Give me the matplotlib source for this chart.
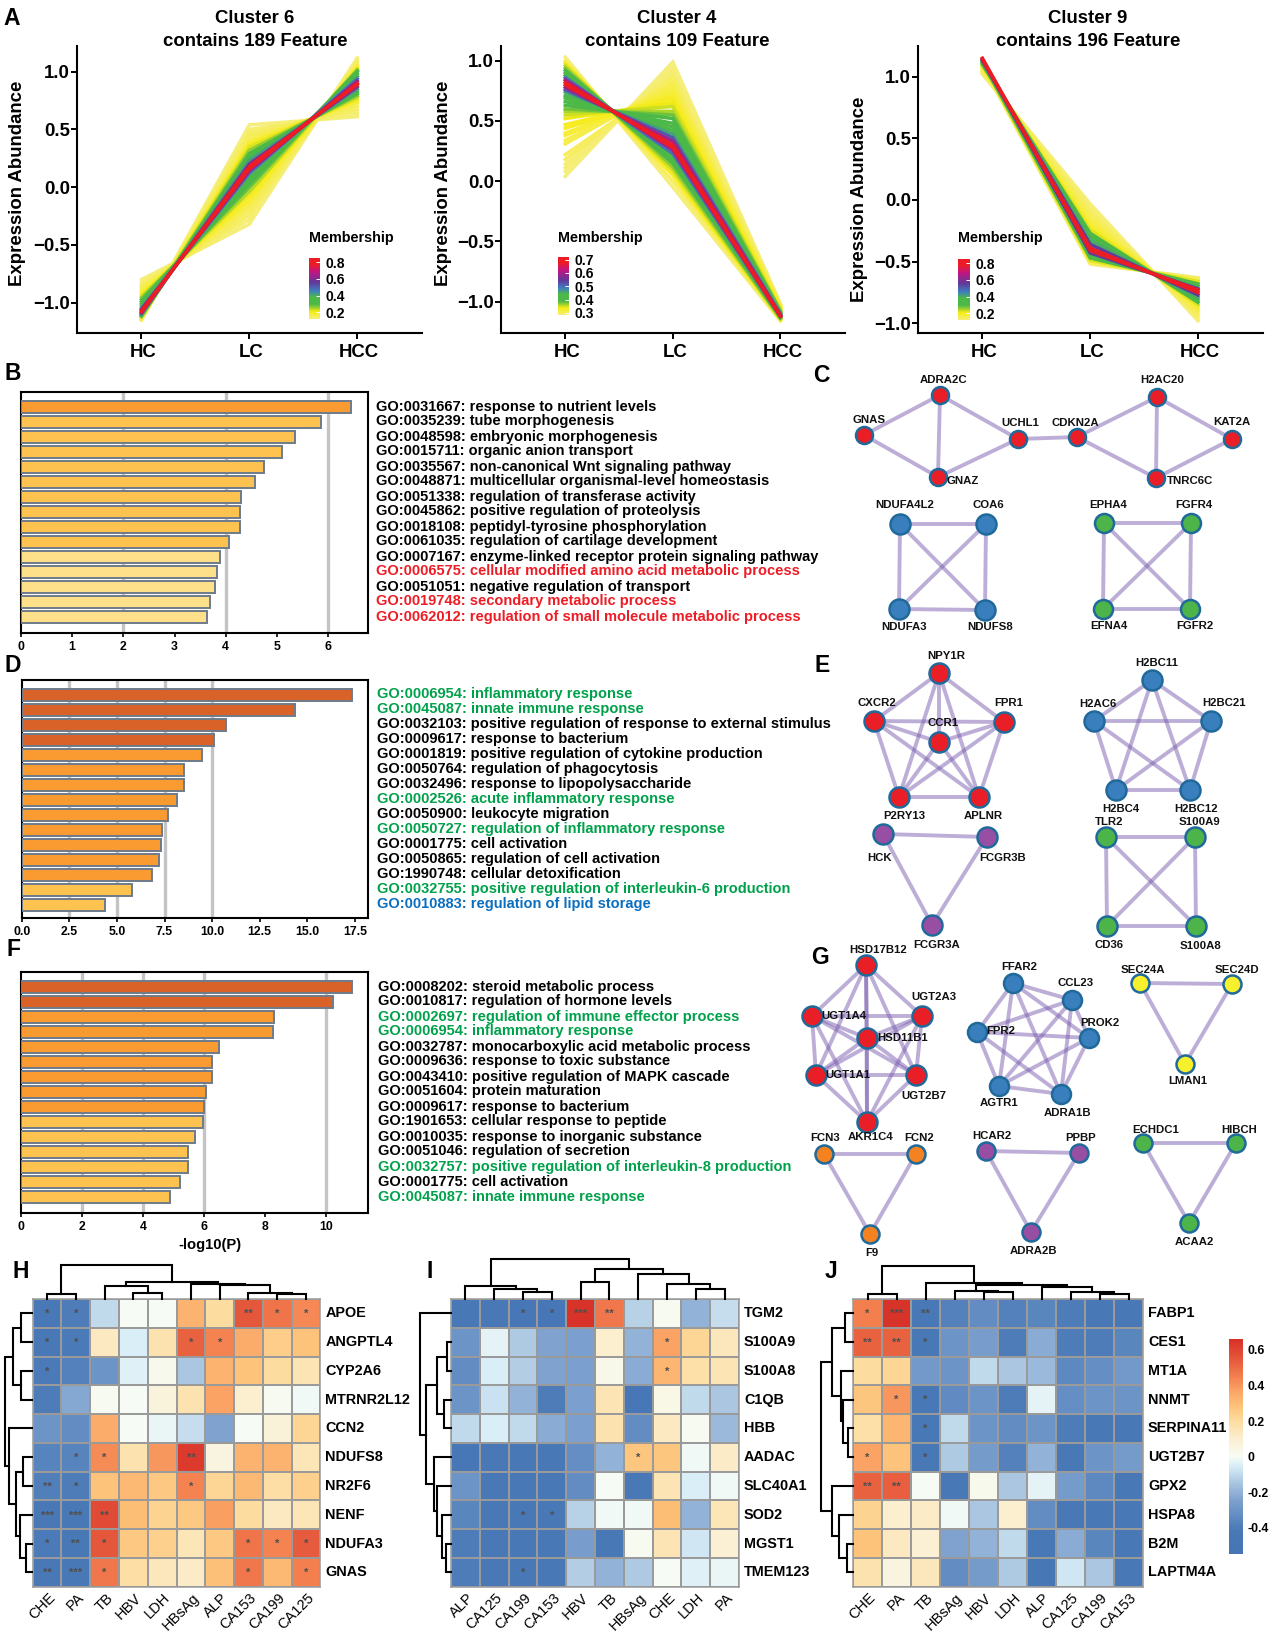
import itertools
import matplotlib
matplotlib.use("Agg")
import matplotlib.pyplot as plt
import numpy as np
from matplotlib.cm import ScalarMappable
from matplotlib.colors import LinearSegmentedColormap, Normalize
from matplotlib.transforms import ScaledTranslation

W, H = 1271, 1637
plt.rcParams['font.family'] = ['Liberation Sans', 'DejaVu Sans']
plt.rcParams['font.weight'] = 'bold'

# ---- Panel A: membership lines, one entry per feature ----
c6_hc = [-.80, -.83, -.85, -.87, -.89, -.91, -.93, -.95, -.97, -.99, -1.01, -1.03, -1.05, -1.06, -1.07, -1.08,
         -1.09, -1.10, -1.11, -1.11, -1.12, -1.12, -1.13, -1.13, -1.14, -1.14, -1.15, -1.15]
c6_lc = [-.32, -.28, -.24, -.20, -.16, -.12, -.08, -.04, 0, .03, .06, .09, .12, .14, .16, .18,
         .20, .23, .26, .29, .32, .35, .38, .41, .44, .47, .50, .54]
c6_hcc = [1.12, 1.10, 1.08, 1.06, 1.05, 1.04, 1.03, 1.02, 1.01, 1.0, .98, .96, .94, .92, .90, .89,
          .87, .85, .83, .81, .79, .77, .75, .73, .70, .67, .64, .61]
c6_mem = [.12, .13, .14, .15, .16, .18, .20, .24, .28, .31, .34, .38, .46, .62, .85, .85,
          .60, .42, .34, .30, .26, .22, .19, .16, .15, .14, .13, .12]

c4_hc = [.04, .08, .11, .14, .18, .22, .31, .34, .38, .40, .44, .47, .52, .55, .58, .60, .63, .66, .69, .71, .74,
         .76, .78, .80, .82, .84, .86, .88, .90, .92, .94, .96, .98, 1.0, 1.03]
c4_lc = [.99, .96, .93, .90, .87, .84, .81, .78, .75, .72, .70, .68, .65, .62, .58, .55, .52, .48, .45, .42, .39,
         .36, .33, .30, .28, .26, .23, .21, .18, .15, .12, .09, .05, 0, -.05]
c4_hcc = [-1.02, -1.02, -1.03, -1.03, -1.03, -1.04, -1.04, -1.05, -1.05, -1.05, -1.06, -1.06, -1.07, -1.07, -1.08,
          -1.08, -1.09, -1.09, -1.10, -1.10, -1.10, -1.11, -1.11, -1.12, -1.12, -1.12, -1.12, -1.13, -1.13, -1.13,
          -1.14, -1.14, -1.15, -1.15, -1.16]
c4_mem = [.28, .28, .29, .29, .30, .30, .31, .31, .32, .32, .33, .33, .34, .35, .36, .38, .39, .40, .41, .42, .46,
          .52, .60, .70, .72, .60, .50, .44, .41, .39, .37, .35, .33, .30, .28]

c9_hc = [1.02, 1.03, 1.04, 1.05, 1.06, 1.07, 1.08, 1.09, 1.10, 1.11, 1.12, 1.13, 1.14, 1.15, 1.14, 1.13, 1.12, 1.11,
         1.10, 1.09]
c9_lc = [-.03, -.06, -.09, -.12, -.15, -.18, -.21, -.24, -.27, -.30, -.33, -.36, -.39, -.41, -.43, -.45, -.47, -.49,
         -.51, -.52]
c9_hcc = [-.98, -.96, -.94, -.92, -.90, -.88, -.86, -.85, -.83, -.81, -.79, -.77, -.75, -.73, -.72, -.70, -.68, -.66,
          -.64, -.63]
c9_mem = [.12, .13, .14, .15, .16, .17, .19, .22, .30, .34, .40, .55, .85, .85, .55, .38, .30, .22, .15, .12]

stages = ["HC", "LC", "HCC"]

# ---- Panels B, D, F: enrichment bars ----
b_vals = [6.44, 5.86, 5.36, 5.09, 4.74, 4.57, 4.30, 4.28, 4.27, 4.06, 3.88, 3.82, 3.80, 3.69, 3.64]
b_terms = ["GO:0031667: response to nutrient levels", "GO:0035239: tube morphogenesis",
           "GO:0048598: embryonic morphogenesis", "GO:0015711: organic anion transport",
           "GO:0035567: non-canonical Wnt signaling pathway", "GO:0048871: multicellular organismal-level homeostasis",
           "GO:0051338: regulation of transferase activity", "GO:0045862: positive regulation of proteolysis",
           "GO:0018108: peptidyl-tyrosine phosphorylation", "GO:0061035: regulation of cartilage development",
           "GO:0007167: enzyme-linked receptor protein signaling pathway",
           "GO:0006575: cellular modified amino acid metabolic process", "GO:0051051: negative regulation of transport",
           "GO:0019748: secondary metabolic process", "GO:0062012: regulation of small molecule metabolic process"]
b_term_cols = ["k"] * 11 + ["r", "k", "r", "r"]
b_bar_cols = ["o"] + ["y"] * 9 + ["p"] * 5

d_vals = [17.33, 14.34, 10.75, 10.1, 9.46, 8.51, 8.5, 8.16, 7.69, 7.36, 7.29, 7.22, 6.82, 5.77, 4.39]
d_terms = ["GO:0006954: inflammatory response", "GO:0045087: innate immune response",
           "GO:0032103: positive regulation of response to external stimulus", "GO:0009617: response to bacterium",
           "GO:0001819: positive regulation of cytokine production", "GO:0050764: regulation of phagocytosis",
           "GO:0032496: response to lipopolysaccharide", "GO:0002526: acute inflammatory response",
           "GO:0050900: leukocyte migration", "GO:0050727: regulation of inflammatory response",
           "GO:0001775: cell activation", "GO:0050865: regulation of cell activation",
           "GO:1990748: cellular detoxification", "GO:0032755: positive regulation of interleukin-6 production",
           "GO:0010883: regulation of lipid storage"]
d_term_cols = ["g", "g", "k", "k", "k", "k", "k", "g", "k", "g", "k", "k", "k", "g", "b"]
d_bar_cols = ["d"] * 4 + ["o"] * 9 + ["y"] * 2

f_vals = [10.84, 10.23, 8.29, 8.27, 6.5, 6.28, 6.27, 6.08, 6.01, 5.97, 5.71, 5.47, 5.47, 5.23, 4.89]
f_terms = ["GO:0008202: steroid metabolic process", "GO:0010817: regulation of hormone levels",
           "GO:0002697: regulation of immune effector process", "GO:0006954: inflammatory response",
           "GO:0032787: monocarboxylic acid metabolic process", "GO:0009636: response to toxic substance",
           "GO:0043410: positive regulation of MAPK cascade", "GO:0051604: protein maturation",
           "GO:0009617: response to bacterium", "GO:1901653: cellular response to peptide",
           "GO:0010035: response to inorganic substance", "GO:0051046: regulation of secretion",
           "GO:0032757: positive regulation of interleukin-8 production", "GO:0001775: cell activation",
           "GO:0045087: innate immune response"]
f_term_cols = ["k", "k", "g", "g", "k", "k", "k", "k", "k", "k", "k", "k", "g", "k", "g"]
f_bar_cols = ["d"] * 2 + ["o"] * 7 + ["y"] * 6

bar_colors = {"d": "#D96228", "o": "#F99B30", "y": "#FDC250", "p": "#FEE08B"}
text_colors = {"k": "#000000", "r": "#EE1C25", "g": "#00A14B", "b": "#0B6FC0"}

# ---- Panels H, I, J: correlation heatmaps ----
h_rows = ["APOE", "ANGPTL4", "CYP2A6", "MTRNR2L12", "CCN2", "NDUFS8", "NR2F6", "NENF", "NDUFA3", "GNAS"]
h_cols = ["CHE", "PA", "TB", "HBV", "LDH", "HBsAg", "ALP", "CA153", "CA199", "CA125"]
h_vals = [[-.42, -.40, -.10, .0, .0, .33, .20, .55, .48, .43],
          [-.42, -.41, .13, -.05, .17, .52, .44, .35, .25, .28],
          [-.41, -.38, -.30, -.04, .02, -.15, .33, .28, .20, .16],
          [-.40, -.23, .01, 0, .07, .17, .37, .10, .01, -.01],
          [-.30, -.33, .35, .0, -.02, -.09, -.24, -.0, .08, .22],
          [-.37, -.37, .42, .17, .40, .63, .06, .33, .33, .15],
          [-.39, -.40, .28, .31, .26, .44, .22, .31, .19, .24],
          [-.42, -.42, .58, .30, .23, .26, .38, .20, .13, .15],
          [-.41, -.42, .55, .26, .24, .15, .26, .48, .44, .54],
          [-.42, -.42, .47, .19, .14, .12, .29, .47, .31, .45]]
h_stars = [["*", "*", "", "", "", "", "", "**", "*", "*"],
           ["*", "*", "", "", "", "*", "*", "", "", ""],
           ["*", "", "", "", "", "", "", "", "", ""],
           [""] * 10,
           [""] * 10,
           ["", "*", "*", "", "", "**", "", "", "", ""],
           ["**", "*", "", "", "", "*", "", "", "", ""],
           ["***", "***", "**", "", "", "", "", "", "", ""],
           ["*", "**", "*", "", "", "", "", "*", "*", "*"],
           ["**", "***", "*", "", "", "", "", "*", "", "*"]]
# dendrograms as (height, left, right), leaves are indices
h_col_tree = (34, (4.7, 0, 1), (16.5, (13, 2, (5.5, 3, 4)), (14.5, 5, (14, 6, (6, 7, (5, 8, 9))))))
h_row_tree = (27, (19, (11.4, 0, 1), (11.4, 2, 3)), (23, 4, (16, (9, 5, 6), (12, 7, (6, 8, 9)))))

i_rows = ["TGM2", "S100A9", "S100A8", "C1QB", "HBB", "AADAC", "SLC40A1", "SOD2", "MGST1", "TMEM123"]
i_cols = ["ALP", "CA125", "CA199", "CA153", "HBV", "TB", "HBsAg", "CHE", "LDH", "PA"]
i_vals = [[-.42, -.42, -.44, -.44, .65, .47, -.12, .01, -.20, -.09],
          [-.30, -.03, -.14, -.24, -.25, .10, -.20, .37, .22, .14],
          [-.33, -.05, -.13, -.24, -.25, .03, -.22, .32, .18, .16],
          [-.30, -.08, -.20, -.40, -.25, .16, -.44, .04, -.10, -.15],
          [-.10, -.05, -.10, -.22, -.25, .17, -.33, .13, .01, -.18],
          [-.44, -.43, -.42, -.42, -.32, -.20, .27, .27, -.01, .12],
          [-.30, -.42, -.43, -.43, -.33, .0, -.42, .16, -.05, -.01],
          [-.36, -.42, -.43, -.43, -.12, -.01, -.01, .30, -.20, .15],
          [-.40, -.42, -.42, -.42, -.26, -.42, .01, .16, -.07, .09],
          [-.40, -.42, -.42, -.42, -.13, -.20, -.14, .0, -.04, -.02]]
i_stars = [["", "", "*", "*", "***", "**", "", "", "", ""],
           ["", "", "", "", "", "", "", "*", "", ""],
           ["", "", "", "", "", "", "", "*", "", ""],
           [""] * 10,
           [""] * 10,
           ["", "", "", "", "", "", "*", "", "", ""],
           [""] * 10,
           ["", "", "*", "*", "", "", "", "", "", ""],
           [""] * 10,
           ["", "", "*", "", "", "", "", "", "", ""]]
i_col_tree = (40, (12.7, 0, (9.3, 1, (6.7, 2, 3))), (30, (16.7, 4, 5), (25, 6, (15, 7, (9.3, 8, 9)))))
i_row_tree = (31, 0, (24.5, (14, (4, 1, 2), (7, 3, 4)), (17, 5, (14, 6, (9, 7, (5, 8, 9))))))

j_rows = ["FABP1", "CES1", "MT1A", "NNMT", "SERPINA11", "UGT2B7", "GPX2", "HSPA8", "B2M", "LAPTM4A"]
j_cols = ["CHE", "PA", "TB", "HBsAg", "HBV", "LDH", "ALP", "CA125", "CA199", "CA153"]
j_vals = [[.45, .65, -.42, -.38, -.33, -.38, -.36, -.40, -.42, -.42],
          [.52, .52, -.42, -.30, -.26, -.40, -.22, -.40, -.40, -.36],
          [.20, .22, -.28, -.30, -.10, -.15, -.18, -.35, -.32, -.28],
          [.27, .40, -.42, -.34, -.30, -.40, -.03, -.32, -.30, -.30],
          [.18, .32, -.42, -.10, -.30, -.33, -.30, -.40, -.42, -.42],
          [.37, .28, -.42, -.14, -.27, -.38, -.20, -.42, -.30, -.27],
          [.52, .53, -.0, -.42, .02, -.15, -.03, -.27, -.35, -.42],
          [.23, .10, .12, -.01, -.15, .10, -.33, -.42, -.42, -.42],
          [.28, .13, .09, -.24, -.20, -.10, -.42, -.22, -.36, -.42],
          [.17, .06, .14, -.33, -.27, -.14, -.46, -.07, -.15, -.42]]
j_stars = [["*", "***", "**", "", "", "", "", "", "", ""],
           ["**", "**", "*", "", "", "", "", "", "", ""],
           [""] * 10,
           ["", "*", "*", "", "", "", "", "", "", ""],
           ["", "", "*", "", "", "", "", "", "", ""],
           ["*", "", "*", "", "", "", "", "", "", ""],
           ["**", "**", "", "", "", "", "", "", "", ""],
           [""] * 10,
           [""] * 10,
           [""] * 10]
j_col_tree = (33, (5, 0, 1), (16, 2, (14, (8, 3, (7, 4, 5)), (11.5, 6, (6.5, 7, (5, 8, 9))))))
j_row_tree = (32, (21, (8, 0, 1), (11.5, 2, (10, 3, (5, 4, 5)))), (21, 6, (14, 7, (6, 8, 9))))

# ---- Panels C, E, G: networks (genes, node layout, label layout) ----
RED, BLUE, GREEN = "#E91E26", "#3A7FBD", "#4DB44A"
PURPLE, ORANGE, YELLOW = "#984EA3", "#F58220", "#F7F02D"
c1_edges = [(1, 0), (1, 2), (0, 2), (0, 3), (2, 3), (3, 4), (4, 5), (4, 7), (5, 7), (5, 6), (7, 6)]
networks = [
    (["ADRA2C", "GNAS", "GNAZ", "UCHL1", "CDKN2A", "H2AC20", "KAT2A", "TNRC6C"],
     [940, 864, 938, 1018, 1077, 1157, 1232, 1156], [395, 435, 477, 439, 437, 397, 439, 478],
     [944, 869, 963, 1020, 1075, 1162, 1232, 1190], [380, 420, 481, 423, 423, 380, 422, 481], RED, 17, c1_edges),
    (["NDUFA4L2", "COA6", "NDUFA3", "NDUFS8"], [900, 986, 899, 985], [524, 524, 609, 610],
     [905, 988, 904, 990], [505, 505, 627, 627], BLUE, 20, None),
    (["EPHA4", "FGFR4", "EFNA4", "FGFR2"], [1104, 1191, 1103, 1190], [523, 523, 609, 609],
     [1108, 1194, 1109, 1195], [505, 505, 626, 626], GREEN, 19, None),
    (["NPY1R", "CXCR2", "FPR1", "CCR1", "P2RY13", "APLNR"], [939, 874, 1004, 939, 899, 979],
     [673, 721, 722, 742, 797, 797], [946, 877, 1009, 943, 904, 983], [656, 703, 703, 723, 816, 816], RED, 20, None),
    (["H2BC11", "H2AC6", "H2BC21", "H2BC4", "H2BC12"], [1152, 1094, 1211, 1116, 1190], [680, 721, 721, 790, 790],
     [1157, 1098, 1224, 1121, 1196], [663, 704, 703, 809, 809], BLUE, 20, None),
    (["HCK", "FCGR3B", "FCGR3A"], [883, 987, 932], [834, 837, 925], [880, 1003, 937], [858, 858, 945], PURPLE, 20, None),
    (["TLR2", "S100A9", "CD36", "S100A8"], [1106, 1195, 1107, 1196], [837, 837, 926, 926],
     [1109, 1199, 1109, 1200], [822, 822, 945, 946], GREEN, 20, None),
    (["HSD17B12", "UGT1A4", "UGT2A3", "HSD11B1", "UGT1A1", "UGT2B7", "AKR1C4"], [866, 812, 922, 867, 816, 916, 867],
     [965, 1016, 1016, 1038, 1075, 1075, 1122], [878, 844, 934, 903, 848, 924, 871],
     [950, 1016, 997, 1038, 1075, 1096, 1137], RED, 20, None),
    (["FFAR2", "CCL23", "PROK2", "FPR2", "AGTR1", "ADRA1B"], [1013, 1072, 1089, 977, 999, 1061],
     [983, 1000, 1038, 1032, 1086, 1094], [1019, 1076, 1100, 1001, 999, 1067],
     [967, 983, 1023, 1031, 1103, 1113], BLUE, 19, None),
    (["SEC24A", "SEC24D", "LMAN1"], [1140, 1232, 1185], [983, 984, 1064], [1143, 1237, 1188], [970, 970, 1081], YELLOW, 18, None),
    (["FCN3", "FCN2", "F9"], [824, 916, 870], [1154, 1154, 1234], [825, 919, 872], [1138, 1138, 1253], ORANGE, 18, None),
    (["HCAR2", "PPBP", "ADRA2B"], [986, 1079, 1031], [1151, 1153, 1232], [992, 1081, 1033], [1136, 1138, 1251], PURPLE, 18, None),
    (["ECHDC1", "HIBCH", "ACAA2"], [1143, 1236, 1189], [1143, 1143, 1223], [1156, 1239, 1194], [1130, 1130, 1242], GREEN, 18, None),
]

fig = plt.figure(figsize=(W / 100, H / 100), dpi=100, facecolor="white")


def px_axes(left, top, right, bottom, **kw):
    return fig.add_axes([left / W, 1 - bottom / H, (right - left) / W, (bottom - top) / H], **kw)


# overlay in pixel coordinates for letters, networks, dendrograms
ov = fig.add_axes([0, 0, 1, 1], zorder=10)
ov.set_xlim(0, W)
ov.set_ylim(H, 0)
ov.axis("off")

# Panel A
member_cmap = LinearSegmentedColormap.from_list("mfuzz", [
    (0, "#F5EE7A"), (.12, "#F7EC13"), (.24, "#4BB848"), (.36, "#4BB848"), (.46, "#3F7FBF"),
    (.6, "#61389A"), (.78, "#C4157F"), (.9, "#EC1C24"), (1, "#EC1C24")])


def cluster_panel(hc, lc, hcc, mem, title, box, title_x, y1, ym1, cb_box, cb_ticks, cb_range, label_x, label_y):
    left, right = box
    ax = px_axes(left, 46, right, 333)
    scale = (ym1 - y1) / 2
    ax.set_xlim(-.6, 2.6)
    ax.set_ylim(-1 - (333 - ym1) / scale, 1 + (y1 - 46) / scale)
    norm = Normalize(*cb_range)
    vals = np.array([hc, lc, hcc]).T
    for k in np.argsort(mem, kind="stable"):
        ax.plot([0, 1, 2], vals[k], color=member_cmap(norm(mem[k])), lw=2.5, solid_joinstyle="miter")
    ax.spines[["top", "right"]].set_visible(False)
    ax.spines[["left", "bottom"]].set_linewidth(1.5)
    ax.set_xticks([0, 1, 2], stages)
    ax.set_yticks([-1, -.5, 0, .5, 1], ["\u22121.0", "\u22120.5", "0.0", "0.5", "1.0"])
    ax.tick_params(labelsize=13.4, width=1.4, length=4, pad=1)
    ax.tick_params(axis="x", pad=4)
    for lab in ax.get_xticklabels():
        lab.set_transform(lab.get_transform() + ScaledTranslation(2 / 100, 0, fig.dpi_scale_trans))
    ov.text(label_x, label_y, "Expression Abundance", rotation=90, ha="center", va="center", fontsize=13.4)
    ov.text(title_x, 18.5, title[0], ha="center", va="center", fontsize=13.4)
    ov.text(title_x, 41, title[1], ha="center", va="center", fontsize=13.4)
    # membership legend
    cax = px_axes(*cb_box)
    cb = fig.colorbar(ScalarMappable(norm, member_cmap), cax=cax)
    cb.outline.set_visible(False)
    cb.set_ticks(cb_ticks, labels=[f"{t:.1f}" for t in cb_ticks])
    cax.tick_params(length=3, width=.7, color="white", direction="in", pad=4, labelsize=10)
    ov.text(cb_box[0], 238, "Membership", ha="left", va="center", fontsize=10.4)


cluster_panel(c6_hc, c6_lc, c6_hcc, c6_mem, ("Cluster 6", "contains 189 Feature"), (76.7, 422), 255, 71.7, 302.7,
              (309, 258, 320, 319), [.2, .4, .6, .8], (.12, .85), 18, 183)
cluster_panel(c4_hc, c4_lc, c4_hcc, c4_mem, ("Cluster 4", "contains 109 Feature"), (500.7, 845), 677, 60.7, 301.7,
              (558, 257, 569, 315), [.3, .4, .5, .6, .7], (.285, .72), 443, 183)
cluster_panel(c9_hc, c9_lc, c9_hcc, c9_mem, ("Cluster 9", "contains 196 Feature"), (917.7, 1262.7), 1088, 76.7, 323.3,
              (958, 259, 970, 320), [.2, .4, .6, .8], (.12, .85), 859, 199)


# Panels B, D, F
def enrich_panel(vals, terms, term_cols, bar_cols, box, xmax, ymax, ticks, grid, text_x, first_row, ticklabels=None):
    left, top, right, bottom = box
    ax = px_axes(left, top, right, bottom)
    rows = np.arange(len(vals))
    ax.barh(rows, vals, height=.8, color=[bar_colors[c] for c in bar_cols], edgecolor="#6E7B8B", linewidth=1.4, zorder=3)
    for g in grid:
        ax.axvline(g, color="#C4C4C4", lw=2.4, zorder=1)
    ax.set_xlim(0, xmax)
    ax.set_ylim(ymax, -1)
    ax.set_yticks([])
    ax.set_xticks(ticks, ticklabels if ticklabels else [str(t) for t in ticks])
    ax.tick_params(axis="x", labelsize=8.8, length=3, width=1.2, pad=3)
    for s in ax.spines.values():
        s.set_linewidth(1.5)
    # baseline anchor keeps the rows evenly spaced whatever the descenders
    for i, (t, c) in enumerate(zip(terms, term_cols)):
        ov.text(text_x, first_row + 15 * i, t, color=text_colors[c], ha="left", va="baseline", fontsize=10.55)
    return ax


enrich_panel(b_vals, b_terms, b_term_cols, b_bar_cols, (21, 392, 368, 632.7), 6.78, 15.05, [0, 1, 2, 3, 4, 5, 6],
             [2, 4, 6], 375.7, 410.5)
enrich_panel(d_vals, d_terms, d_term_cols, d_bar_cols, (21.7, 679.7, 368.3, 917.7), 18.2, 14.87,
             [0, 2.5, 5, 7.5, 10, 12.5, 15, 17.5], [2.5, 5, 7.5, 10], 377, 698,
             ["0.0", "2.5", "5.0", "7.5", "10.0", "12.5", "15.0", "17.5"])
axf = enrich_panel(f_vals, f_terms, f_term_cols, f_bar_cols, (21, 972, 368.3, 1212.7), 11.39, 15.05,
                   [0, 2, 4, 6, 8, 10], [2, 4, 6, 10], 378.3, 990.5)
ov.text(210, 1245, "-log10(P)", ha="center", va="center", fontsize=10.6)

# Panels C, E, G
for genes, xs, ys, lab_x, lab_y, fill, size, edges in networks:
    if edges is None:
        edges = list(itertools.combinations(range(len(genes)), 2))
    for a, b in edges:
        ov.plot([xs[a], xs[b]], [ys[a], ys[b]], color="#7B5FAF", alpha=.5, lw=2.8, zorder=2, solid_capstyle="butt")
    d = size * .72
    ov.scatter(xs, ys, s=d ** 2, c=fill, edgecolors="#1F6A9A", linewidths=1.8, zorder=3)
    for g, x, y in zip(genes, lab_x, lab_y):
        ov.text(x, y, g, ha="center", va="center", fontsize=8.2, color="#111111", zorder=4)

# Panels H, I, J
heat_cmap_nodes = [(-.546, "#4575B4"), (-.42, "#4878B6"), (-.25, "#7CA0CE"), (-.15, "#A9C5E0"), (-.05, "#D9EEF7"),
                   (0, "#F7FCF5"), (.1, "#FBEFD0"), (.2, "#FDDCA0"), (.28, "#FDC47A"), (.36, "#FBA868"),
                   (.45, "#F3804F"), (.53, "#E85F3F"), (.66, "#D73027")]
heat_norm = Normalize(-.546, .66)
heat_cmap = LinearSegmentedColormap.from_list("heat", [(float(heat_norm(v)), c) for v, c in heat_cmap_nodes])


def leaf_span(tree, place, base, sign, horizontal):
    # returns the leaf-axis position of the node, draws its bracket
    if not isinstance(tree, tuple):
        return place(tree), 0
    h, l, r = tree
    pl, hl = leaf_span(l, place, base, sign, horizontal)
    pr, hr = leaf_span(r, place, base, sign, horizontal)
    xs = [pl, pl, pr, pr]
    ys = [base + sign * hl, base + sign * h, base + sign * h, base + sign * hr]
    if horizontal:
        ov.plot(xs, ys, color="k", lw=1.5, zorder=2, solid_joinstyle="miter")
    else:
        ov.plot(ys, xs, color="k", lw=1.5, zorder=2, solid_joinstyle="miter")
    return (pl + pr) / 2, h


def heat_panel(vals, stars, rows, cols, col_tree, row_tree, left, right):
    top, bottom = 1299, 1586.7
    ax = px_axes(left, top, right, bottom)
    ax.pcolormesh(vals, cmap=heat_cmap, norm=heat_norm, edgecolors="#9A9A9A", linewidth=1.1)
    ax.set_xlim(0, 10)
    ax.set_ylim(10, 0)
    ax.set_xticks([])
    ax.set_yticks([])
    for s in ax.spines.values():
        s.set_color("#9A9A9A")
        s.set_linewidth(1.1)
    for r, row in enumerate(stars):
        for c, mark in enumerate(row):
            if mark:
                ax.text(c + .5, r + .52, mark, ha="center", va="center", fontsize=8, color="#4F4F4F")
    cell = (right - left) / 10
    for r, name in enumerate(rows):
        ov.text(right + 5, top + (r + .5) * 28.77, name, ha="left", va="center", fontsize=10.4)
    for c, name in enumerate(cols):
        ov.text(left + (c + .5) * cell + 1, bottom + 4, name, ha="right", va="top", rotation=45,
                rotation_mode="anchor", fontsize=10.5, fontweight="normal")
    leaf_span(col_tree, lambda i: left + (i + .5) * cell, top - .5, -1, True)
    leaf_span(row_tree, lambda i: top + (i + .5) * 28.77, left - .5, -1, False)


heat_panel(h_vals, h_stars, h_rows, h_cols, h_col_tree, h_row_tree, 32.7, 320.4)
heat_panel(i_vals, i_stars, i_rows, i_cols, i_col_tree, i_row_tree, 451, 739)
heat_panel(j_vals, j_stars, j_rows, j_cols, j_col_tree, j_row_tree, 853, 1143)

cax = px_axes(1229, 1339, 1243, 1554)
cb = fig.colorbar(ScalarMappable(heat_norm, heat_cmap), cax=cax)
cb.outline.set_visible(False)
cb.set_ticks([.6, .4, .2, 0, -.2, -.4], labels=["0.6", "0.4", "0.2", "0", "-0.2", "-0.4"])
cax.tick_params(length=0, pad=3, labelsize=8.8)

# panel letters
letters = ["A", "B", "C", "D", "E", "F", "G", "H", "I", "J"]
letter_x = [12, 13, 821, 13, 822, 13, 820, 21, 430, 831]
letter_y = [18.5, 374, 375, 665, 666, 950, 958, 1271, 1271, 1271]
for t, x, y in zip(letters, letter_x, letter_y):
    ov.text(x, y, t, ha="center", va="center", fontsize=16.5, color="k")

fig.savefig("out.png", dpi=100)
